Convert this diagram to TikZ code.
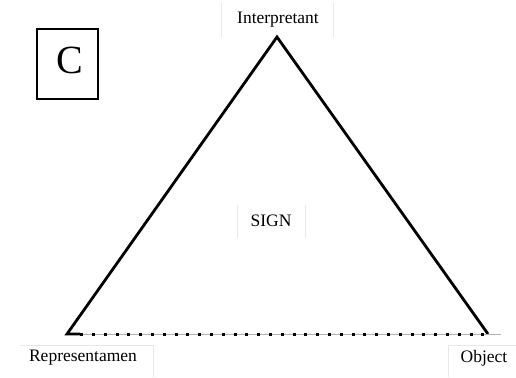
\documentclass[tikz,border=0pt]{standalone}
\usepackage{fontspec}
\setmainfont{Liberation Serif}
\begin{document}
\begin{tikzpicture}[x=1pt,y=-1pt,
  vertex/.style={line width=2.8pt,line join=miter,line cap=butt},
  labelbox/.style={inner sep=0pt,font=\fontsize{17.5}{20}\selectfont},
  faint/.style={gray!18,line width=0.8pt}]
  \useasboundingbox[fill=white] (0,0) rectangle (516,377);
  \coordinate (apex) at (277,37);
  \coordinate (left) at (67,334);
  \coordinate (right) at (488,334);
  \coordinate (tail) at (501,334);
  \coordinate (foot) at (80,334);
  \draw[vertex] (foot) -- (left) -- (apex) -- (right);
  \draw[gray!60,line width=1pt] (foot) -- (tail);
  \draw[line width=3pt,dash pattern=on 3pt off 8.8pt,dash phase=-12pt] (foot) -- (right);
  \draw[faint] (221,3) -- (221,37) (333,3) -- (333,37);
  \draw[faint] (20,345) -- (153,345) -- (153,377);
  \draw[faint] (516,345) -- (448,345) -- (448,377);
  \draw[faint] (237,205) -- (237,238) (305,205) -- (305,238);
  \node[labelbox] (interp) at (278,20) {Interpretant};
  \node[labelbox] (repr) at (83,358) {Representamen};
  \node[labelbox] (obj) at (484,358) {Object};
  \node[labelbox] (sign) at (271,221) {SIGN};
  \node[draw,line width=1.4pt,minimum width=61pt,minimum height=70pt,inner sep=0pt] (cbox) at (67.5,64) {};
  \node[inner sep=0pt,font=\fontsize{40}{40}\selectfont] (ctext) at (69.5,60) {C};
\end{tikzpicture}
\end{document}
